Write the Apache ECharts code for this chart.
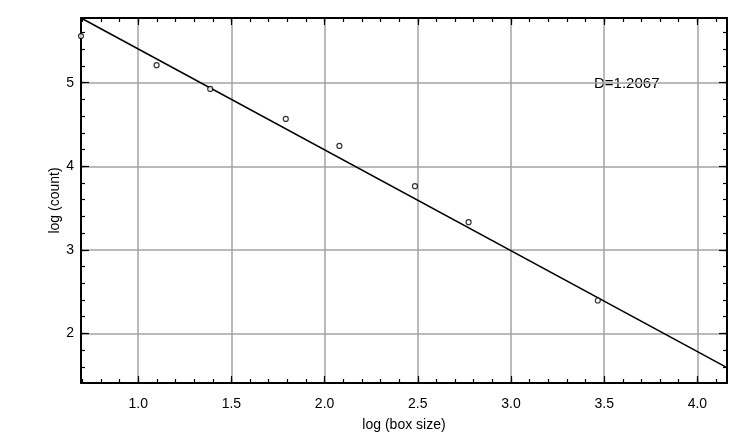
<!DOCTYPE html>
<html>
<head>
<meta charset="utf-8">
<script src="https://cdn.jsdelivr.net/npm/echarts@6/dist/echarts.min.js"></script>
<style>
  html, body { margin: 0; padding: 0; background: #fff; }
  #chart { width: 750px; height: 437px; }
</style>
</head>
<body>
<div id="chart"></div>
<script>
// log(box size) vs log(count), box sizes 2..64
const logBoxSize = [0.6931, 1.0986, 1.3863, 1.7918, 2.0794, 2.4849, 2.7726, 3.4657]
const logCount = [5.558, 5.21, 4.925, 4.566, 4.243, 3.762, 3.331, 2.394]
// fitted line endpoints (slope -1.2067)
const fitX = [0.6931, 4.1589]
const fitY = [5.774, 1.592]
const dimLabel = 'D=1.2067'

const xTicks = [1.0, 1.5, 2.0, 2.5, 3.0, 3.5, 4.0]
const yTicks = [2, 3, 4, 5]

const xRange = [0.6931, 4.1589]
const yRange = [1.407, 5.774]

// minor tick positions between the range ends
function steps(lo, hi, step) {
  const out = []
  for (let v = Math.ceil(lo / step - 1e-9); v * step <= hi + 1e-9; v++) out.push(+(v * step).toFixed(4))
  return out
}
const xMinor = steps(xRange[0], xRange[1], 0.1)
const yMinor = steps(yRange[0], yRange[1], 0.2)

const chart = echarts.init(document.getElementById('chart'))
const font = 'Liberation Sans, Arial, sans-serif'
const gridGray = '#a3a3a3'

function tickAxis(pos, range, ticks, len, opts) {
  return Object.assign({
    type: 'value',
    position: pos,
    min: range[0],
    max: range[1],
    axisLine: { show: false },
    axisTick: { show: true, inside: true, length: len, customValues: ticks, lineStyle: { color: '#000', width: 1.2 } },
    axisLabel: { show: false },
    splitLine: { show: false }
  }, opts || {})
}

const options = {
  animation: false,
  grid: { left: 81, right: 23, top: 18, bottom: 54, containLabel: false },
  xAxis: [
    {
      type: 'value',
      position: 'bottom',
      min: xRange[0],
      max: xRange[1],
      name: 'log (box size)',
      nameLocation: 'middle',
      nameGap: 35,
      nameMoveOverlap: false,
      nameTextStyle: { color: '#000', fontSize: 14, fontFamily: font },
      axisLine: { show: true, lineStyle: { color: '#000', width: 2 } },
      axisTick: { show: true, inside: true, length: 7, customValues: xTicks, lineStyle: { color: '#000', width: 1.2 } },
      axisLabel: { color: '#000', fontSize: 14, fontFamily: font, margin: 14, customValues: xTicks, formatter: v => v.toFixed(1) },
      splitLine: { show: true, lineStyle: { color: gridGray, width: 1.5 } }
    },
    tickAxis('bottom', xRange, xMinor, 4),
    tickAxis('top', xRange, xTicks, 7, { axisLine: { show: true, lineStyle: { color: '#000', width: 2 } } }),
    tickAxis('top', xRange, xMinor, 4)
  ],
  yAxis: [
    {
      type: 'value',
      position: 'left',
      min: yRange[0],
      max: yRange[1],
      name: 'log (count)',
      nameLocation: 'middle',
      nameGap: 19,
      nameMoveOverlap: false,
      nameTextStyle: { color: '#000', fontSize: 14, fontFamily: font },
      axisLine: { show: true, lineStyle: { color: '#000', width: 2 } },
      axisTick: { show: true, inside: true, length: 8, customValues: yTicks, lineStyle: { color: '#000', width: 1.2 } },
      axisLabel: { color: '#000', fontSize: 14, fontFamily: font, margin: 7, customValues: yTicks, formatter: v => String(v) },
      splitLine: { show: true, lineStyle: { color: gridGray, width: 1.5 } }
    },
    tickAxis('left', yRange, yMinor, 4),
    tickAxis('right', yRange, yTicks, 8, { axisLine: { show: true, lineStyle: { color: '#000', width: 2 } } }),
    tickAxis('right', yRange, yMinor, 4)
  ],
  graphic: [
    {
      type: 'text',
      left: 594,
      top: 76,
      style: { text: dimLabel, fill: '#000', fontSize: 15, fontFamily: font }
    }
  ],
  series: [
    {
      type: 'line',
      data: fitX.map((x, i) => [x, fitY[i]]),
      symbol: 'none',
      lineStyle: { color: '#000', width: 1.5 },
      silent: true,
      z: 3
    },
    {
      type: 'scatter',
      data: logBoxSize.map((x, i) => [x, logCount[i]]),
      symbol: 'circle',
      symbolSize: 5,
      itemStyle: { color: '#fff', borderColor: '#000', borderWidth: 1.2 },
      z: 4
    }
  ]
}

chart.setOption(options)
</script>
</body>
</html>
